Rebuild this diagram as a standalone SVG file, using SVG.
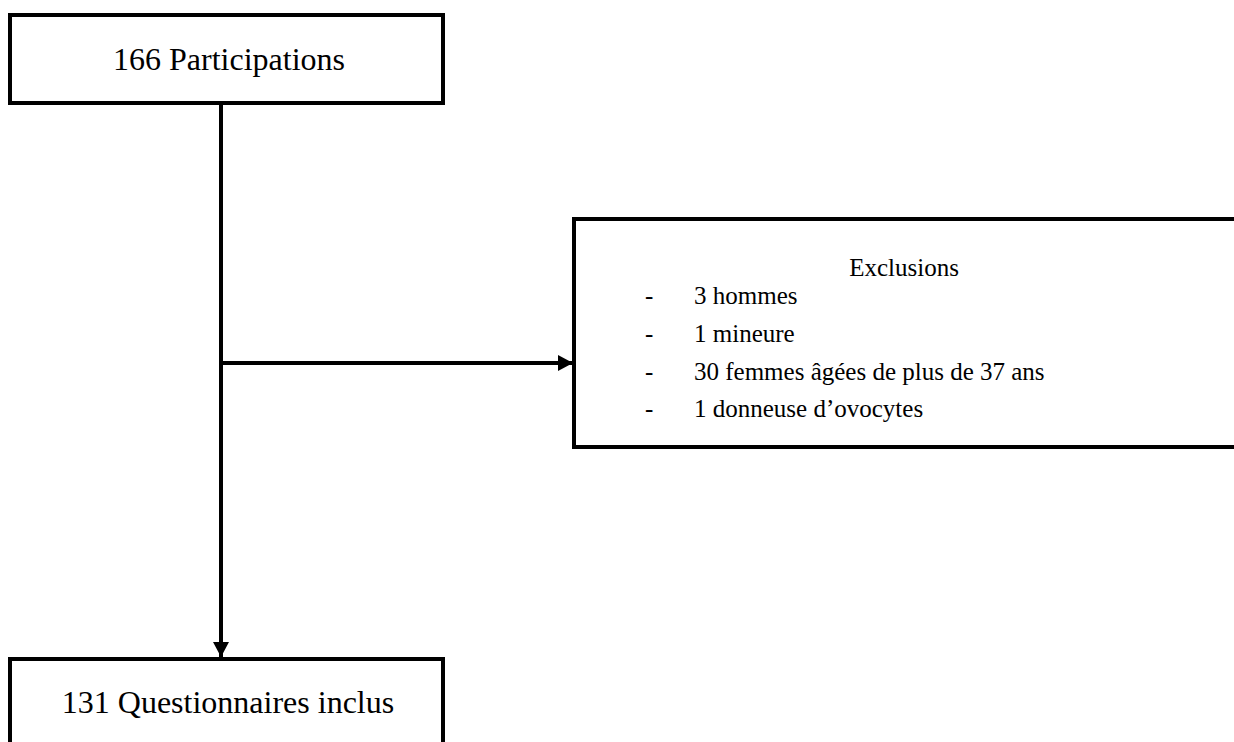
<svg xmlns="http://www.w3.org/2000/svg" width="1234" height="742" viewBox="0 0 1234 742">
<style>
.box{fill:#fff;stroke:#000;stroke-width:4}
.ln{fill:none;stroke:#000;stroke-width:4}
.t{font-family:"Liberation Serif","Times New Roman",serif;fill:#000}
.big{font-size:32px}
.sm{font-size:25px}
</style>
<defs>
<marker id="ah" markerUnits="userSpaceOnUse" markerWidth="18" markerHeight="18" refX="15" refY="8" orient="auto">
<path d="M0,0 L15,8 L0,16 Z" fill="#000"/>
</marker>
</defs>
<rect width="1234" height="742" fill="#fff"/>
<g id="connectors">
<line class="ln" x1="221" y1="103" x2="221" y2="657" marker-end="url(#ah)"/>
<line class="ln" x1="221" y1="363" x2="573" y2="363" marker-end="url(#ah)"/>
</g>
<g id="n-participations">
<rect class="box" x="10" y="15" width="433" height="88"/>
<text class="t big" x="229" y="70" text-anchor="middle">166 Participations</text>
</g>
<g id="n-exclusions">
<path class="ln" d="M1236,219 L574,219 L574,447 L1236,447"/>
<text class="t sm" x="904" y="276" text-anchor="middle">Exclusions</text>
<text class="t sm" x="645" y="304">-</text><text class="t sm" x="694" y="304">3 hommes</text>
<text class="t sm" x="645" y="342">-</text><text class="t sm" x="694" y="342">1 mineure</text>
<text class="t sm" x="645" y="380">-</text><text class="t sm" x="694" y="380">30 femmes âgées de plus de 37 ans</text>
<text class="t sm" x="645" y="417">-</text><text class="t sm" x="694" y="417">1 donneuse d’ovocytes</text>
</g>
<g id="n-inclus">
<rect class="box" x="10" y="659" width="433" height="100"/>
<text class="t big" x="228" y="713" text-anchor="middle">131 Questionnaires inclus</text>
</g>
</svg>
